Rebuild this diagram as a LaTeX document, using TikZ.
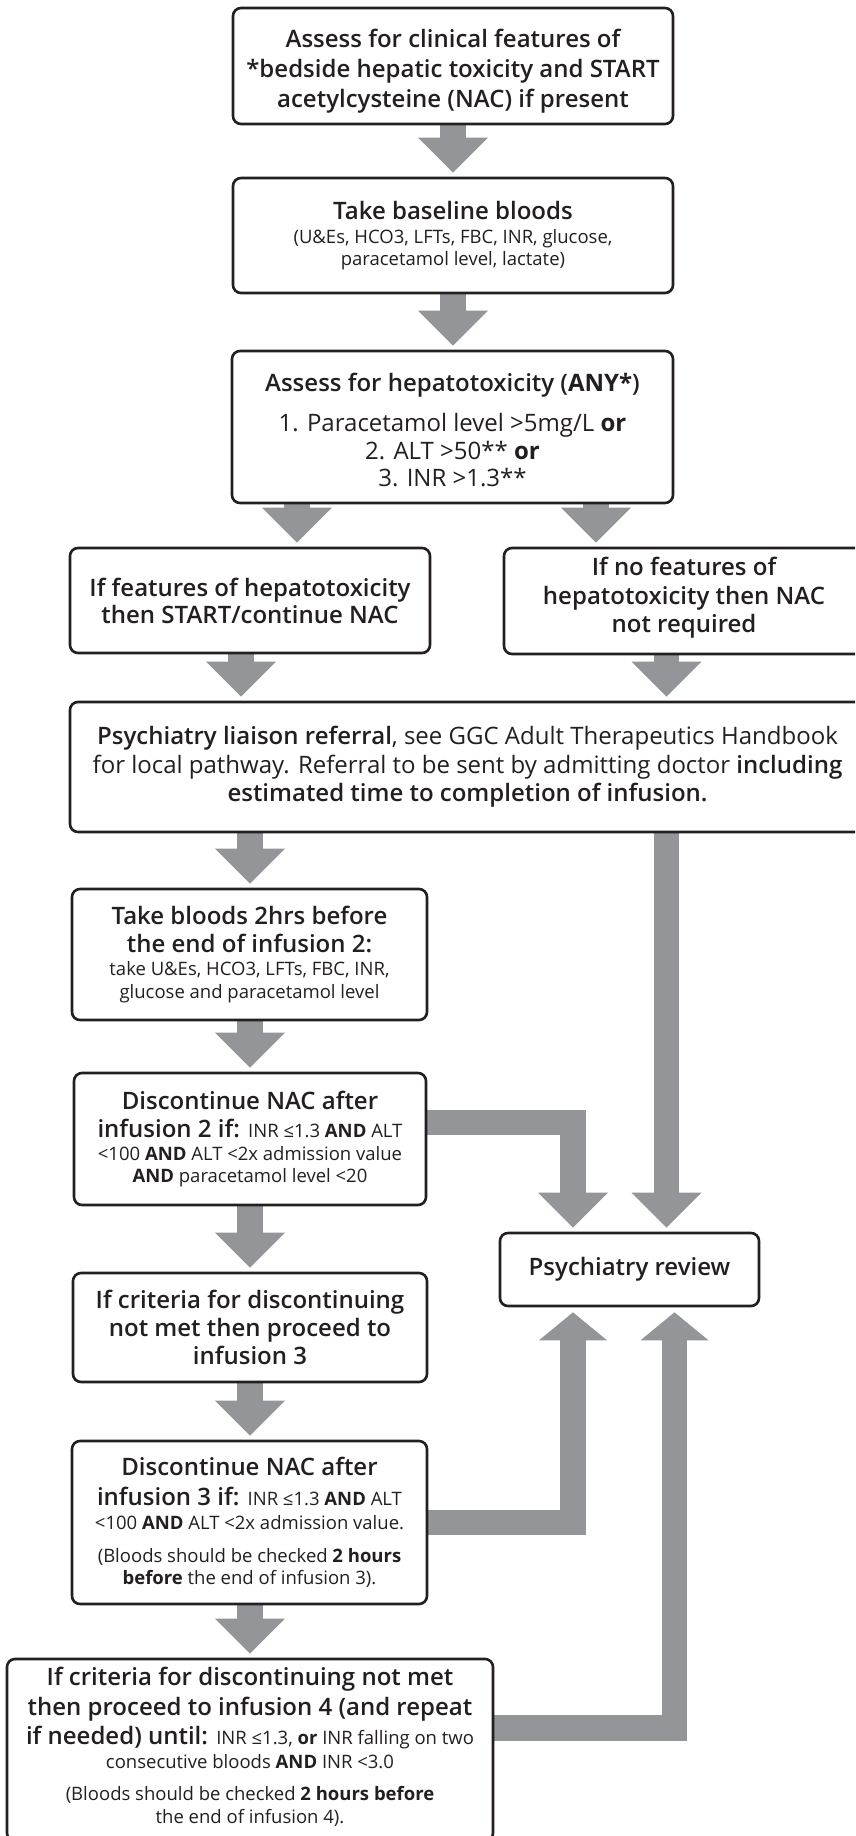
\documentclass[tikz,border=0pt]{standalone}
\usepackage{fontspec}
\setmainfont{Open Sans}
\IfFontExistsTF{Open Sans Semibold}{\newfontfamily\semib{Open Sans Semibold}}{%
  \IfFontExistsTF{Open Sans SemiBold}{\newfontfamily\semib{Open Sans SemiBold}}{%
    \newfontfamily\semib{Open Sans}[FakeBold=1.2]}}
\usetikzlibrary{calc}
\definecolor{agrey}{RGB}{147,149,152}
\definecolor{ink}{RGB}{35,31,32}
\newcommand\Lg{\fontsize{24}{29.5}\selectfont}
\newcommand\Sm{\fontsize{18.5}{22}\selectfont}
\newcommand\rg{\normalfont}
\newcommand\bo[1]{{\normalfont\bfseries #1}}
\pgfdeclarelayer{bg}
\pgfsetlayers{bg,main}
\tikzset{
  box/.style={draw=ink, line width=2.6pt, rounded corners=8pt, fill=white,
    align=center, inner sep=0pt, font=\semib\Lg, text=ink},
  txt/.style={align=center, inner sep=0pt, font=\semib\Lg, text=ink},
  shaft/.style={draw=agrey, line width=25.5pt, line join=miter},
  headfill/.style={fill=agrey},
}
% vertical fat arrow: #1 column coordinate, #2 source anchor, #3 target anchor (north)
\newcommand\vfat[3]{%
  \begin{pgfonlayer}{bg}
  \draw[shaft] (#1 |- #2) -- ($(#1 |- #3)+(0pt,38pt)$);
  \end{pgfonlayer}
  \fill[headfill] ($(#1 |- #3)+(0pt,4pt)$) -- ++(-35pt,35pt) -- ++(70pt,0pt) -- cycle;}
\begin{document}
\begin{tikzpicture}[x=1pt,y=-1pt]
\useasboundingbox (0,0) rectangle (855,1836);
\clip (0,0) rectangle (855,1836);
\begin{pgfonlayer}{bg}
\fill[white] (0,0) rectangle (855,1836);
\end{pgfonlayer}

% ---------- boxes ----------
\node[box, minimum width=440pt, minimum height=116pt] (b1) at (453,66) {};
\node[txt] (t1) at ([yshift=-5pt]b1.center)
  {Assess for clinical features of\\[0.5pt] *bedside hepatic toxicity and START\\[0.5pt] acetylcysteine (NAC) if present};
\node[box, minimum width=440pt, minimum height=115pt] (b2) at (453,235.5)
  {Take baseline bloods\\[-5.5pt] \rg\Sm (U\&Es, HCO3, LFTs, FBC, INR, glucose,\\[-7.5pt] \rg\Sm paracetamol level, lactate)};
\node[box, minimum width=441pt, minimum height=152pt] (b3) at (452.5,427) {};
\node[txt] (t3) at ([yshift=-3pt]b3.center)
  {Assess for hepatotoxicity (\bo{ANY*})\\[10.5pt] \rg 1. Paracetamol level >5mg/L \bo{or}\\[-2pt] \rg 2. ALT >50** \bo{or}\\[-2pt] \rg 3. INR >1.3**};
\node[box, minimum width=360pt, minimum height=105pt] (bL) at (250,600.5)
  {If features of hepatotoxicity\\[-2.5pt] then START/continue NAC};
\node[box, minimum width=360pt, minimum height=106pt] (bR) at (684,601) {};
\node[txt] (tR) at ([yshift=3pt]bR.center)
  {If no features of\\[-0.5pt] hepatotoxicity then NAC\\[-1.5pt] not required};
\node[box, minimum width=795pt, minimum height=130pt] (li) at (467.5,767)
  {Psychiatry liaison referral\rg, see GGC Adult Therapeutics Handbook\\[-0.5pt]
   \rg for local pathway. Referral to be sent by admitting doctor \semib including\\[-1.5pt]
   estimated time to completion of infusion.};
\node[box, minimum width=355pt, minimum height=131pt] (tb) at (249.5,954.5)
  {Take bloods 2hrs before\\[-1.5pt] the end of infusion 2:\\[-6.5pt] \rg\Sm take U\&Es, HCO3, LFTs, FBC, INR,\\[-6.5pt] \rg\Sm glucose and paracetamol level};
\node[box, minimum width=352pt, minimum height=132pt] (d2) at (250,1139)
  {Discontinue NAC after\\[-1.5pt] infusion 2 if: {\rg\Sm INR ≤1.3 \bo{AND} ALT}\\[-6.5pt]
   \rg\Sm <100 \bo{AND} ALT <2x admission value\\[-7.5pt] \rg\Sm \bo{AND} paracetamol level <20};
\node[box, minimum width=354pt, minimum height=109pt] (c3) at (250,1327.5)
  {If criteria for discontinuing\\[-1.5pt] not met then proceed to\\[-1.5pt] infusion 3};
\node[box, minimum width=355pt, minimum height=163pt] (d3) at (249.5,1522.5)
  {Discontinue NAC after\\[0.5pt] infusion 3 if: {\rg\Sm INR ≤1.3 \bo{AND} ALT}\\[-5.5pt]
   \rg\Sm <100 \bo{AND} ALT <2x admission value.\\[3.5pt]
   \rg\Sm (Bloods should be checked \bo{2 hours}\\[-7.5pt] \rg\Sm \bo{before} the end of infusion 3).};
\node[box, minimum width=486pt, minimum height=182pt] (c4) at (250,1750) {};
\node[txt] (t4) at ([yshift=3pt]c4.center)
  {If criteria for discontinuing not met\\[0.7pt] then proceed to infusion 4 (and repeat\\[-1.3pt]
   if needed) until: {\rg\Sm INR ≤1.3, \bo{or} INR falling on two}\\[-5.5pt]
   \rg\Sm consecutive bloods \bo{AND} INR <3.0\\[3pt]
   \rg\Sm (Bloods should be checked \bo{2 hours before}\\[-6.5pt] \rg\Sm the end of infusion 4).};
\node[box, minimum width=259pt, minimum height=73pt] (pr) at (629.5,1269.5) {Psychiatry review};

% ---------- columns and bands ----------
\coordinate (xa) at (453,0);
\coordinate (xb) at (297,0);
\coordinate (xc) at (596,0);
\coordinate (xd) at (241,0);
\coordinate (xe) at (666.5,0);
\coordinate (xf) at (250,0);
\coordinate (xh) at (573,0);
\coordinate (xi) at (674.5,0);
\coordinate (ya) at (0,1122.5);
\coordinate (yb) at (0,1522.5);
\coordinate (yc) at (0,1728);

% ---------- straight arrows ----------
\vfat{xa}{b1.south}{b2.north}
\vfat{xa}{b2.south}{b3.north}
\vfat{xb}{b3.south}{bL.north}
\vfat{xc}{b3.south}{bR.north}
\vfat{xd}{bL.south}{li.north}
\vfat{xe}{bR.south}{li.north}
\vfat{xf}{li.south}{tb.north}
\vfat{xe}{li.south}{pr.north}
\vfat{xf}{tb.south}{d2.north}
\vfat{xf}{d2.south}{c3.north}
\vfat{xf}{c3.south}{d3.north}
\vfat{xf}{d3.south}{c4.north}

% ---------- elbow arrows to Psychiatry review ----------
\begin{pgfonlayer}{bg}
\draw[shaft] (d2.east |- ya) -| ($(xh |- pr.north)+(0pt,38pt)$);
\draw[shaft] (d3.east |- yb) -| ($(xh |- pr.south)+(0pt,-31pt)$);
\draw[shaft] (c4.east |- yc) -| ($(xi |- pr.south)+(0pt,-31pt)$);
\end{pgfonlayer}
\fill[headfill] ($(xh |- pr.north)+(0pt,4pt)$) -- ++(-35pt,35pt) -- ++(70pt,0pt) -- cycle;
\fill[headfill] ($(xh |- pr.south)+(0pt,-5pt)$) -- ++(-34pt,-28pt) -- ++(68pt,0pt) -- cycle;
\fill[headfill] ($(xi |- pr.south)+(0pt,-5pt)$) -- ++(-34pt,-28pt) -- ++(68pt,0pt) -- cycle;
\end{tikzpicture}
\end{document}
